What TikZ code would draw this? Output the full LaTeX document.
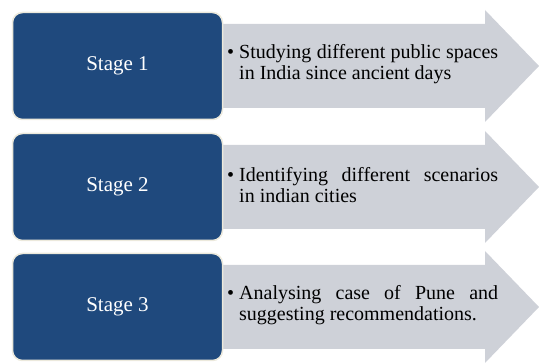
\documentclass[tikz,border=0pt]{standalone}
\usepackage{fontspec}
\setmainfont{Liberation Serif}
\usepackage{xcolor}
\definecolor{stageblue}{RGB}{31,73,125}
\definecolor{stageedge}{RGB}{236,233,220}
\definecolor{flowgrey}{RGB}{206,209,216}
\newcommand{\pointtext}[1]{\makebox[12pt][l]{\textbullet}\parbox[t]{259pt}{\hyphenpenalty=10000 #1}}

\begin{document}
\begin{tikzpicture}[x=1pt,y=-1pt]
  \tikzstyle{stage}=[rectangle,rounded corners=10pt,fill=stageblue,draw=stageedge,line width=1.5pt,
    minimum width=210pt,minimum height=107pt,text=white,font=\fontsize{21}{24}\selectfont]
  \tikzstyle{flow}=[fill=flowgrey]
  \tikzstyle{point}=[anchor=west,inner sep=0pt,font=\fontsize{20}{20.5}\selectfont]

  \useasboundingbox (0,0) rectangle (539,363);

  % grey arrows behind the stages
  \coordinate (r1) at (210,66);
  \coordinate (r2) at (210,187);
  \coordinate (r3) at (210,307);
  \fill[flow] (r1) ++(0,-42) -- ++(275,0) -- ++(0,-14) -- ++(54,56) -- ++(-54,56) -- ++(0,-14) -- ++(-275,0) -- cycle;
  \fill[flow] (r2) ++(0,-42) -- ++(275,0) -- ++(0,-14) -- ++(54,56) -- ++(-54,56) -- ++(0,-14) -- ++(-275,0) -- cycle;
  \fill[flow] (r3) ++(0,-42) -- ++(275,0) -- ++(0,-14) -- ++(54,56) -- ++(-54,56) -- ++(0,-14) -- ++(-275,0) -- cycle;

  \node[stage] (s1) at (117.5,66)  {Stage 1};
  \node[stage] (s2) at (117.5,187) {Stage 2};
  \node[stage] (s3) at (117.5,307) {Stage 3};

  \node[point] (p1) at (227,64)  {\pointtext{Studying different public spaces\linebreak in India since ancient days}};
  \node[point] (p2) at (227,185) {\pointtext{Identifying different scenarios\linebreak in indian cities}};
  \node[point] (p3) at (227,305) {\pointtext{Analysing case of Pune and\linebreak suggesting recommendations.}};
\end{tikzpicture}
\end{document}
